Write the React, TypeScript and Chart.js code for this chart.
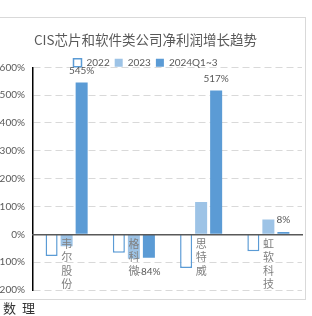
import React, { useEffect, useRef } from "react";
import { Chart, registerables } from "chart.js";

Chart.register(...registerables);

const TITLE = "CIS芯片和软件类公司净利润增长趋势";
const categories = ["韦尔股份", "格科微", "思特威", "虹软科技"];
const seriesNames = ["2022", "2023", "2024Q1~3"];
const values2022 = [-78, -66, -121, -61];
const values2023 = [-43, -88, 116, 53];
const values2024 = [545, -84, 517, 8];
const yMin = -200;
const yMax = 600;
const yStep = 100;
const footText = "数理";

const dataLabelPlugin = {
  id: "dataLabels",
  afterDatasetsDraw(chart: any) {
    const ctx = chart.ctx;
    const meta = chart.getDatasetMeta(2);
    const ds = chart.data.datasets[2];
    ctx.save();
    ctx.font = "10px Lato";
    ctx.fillStyle = "#595959";
    ctx.textAlign = "center";
    ctx.textBaseline = "middle";
    meta.data.forEach((bar: any, i: number) => {
      const v = ds.data[i] as number;
      const y = v >= 0 ? bar.y - 12 : bar.y + 14.5;
      ctx.fillText(v + "%", bar.x, y);
    });
    ctx.restore();
  },
};

const legendShiftPlugin = {
  id: "legendShift",
  afterLayout(chart: any) {
    const lg = chart.legend;
    if (lg) {
      lg.top += 10.5;
      lg.bottom += 10.5;
    }
  },
};

export default function App() {
  const ref = useRef<HTMLCanvasElement>(null);
  useEffect(() => {
    if (!ref.current) return;
    const chart = new Chart(ref.current, {
      type: "bar",
      data: {
        labels: categories.map((c) => c.split("")),
        datasets: [
          {
            label: seriesNames[0],
            data: values2022,
            backgroundColor: "#ffffff",
            borderColor: "#5b9bd5",
            borderWidth: 1.5,
          },
          {
            label: seriesNames[1],
            data: values2023,
            backgroundColor: "#9dc3e6",
            borderWidth: 0,
          },
          {
            label: seriesNames[2],
            data: values2024,
            backgroundColor: "#5b9bd5",
            borderWidth: 0,
          },
        ],
      },
      options: {
        animation: false,
        responsive: false,
        maintainAspectRatio: false,
        layout: { padding: { top: 0, left: 0, right: 2, bottom: 9 } },
        datasets: {
          bar: { categoryPercentage: 0.67, barPercentage: 0.8 },
        },
        plugins: {
          title: {
            display: true,
            text: TITLE,
            color: "#595959",
            font: { size: 13.5, family: "'Noto Sans CJK SC'", weight: "normal" },
            padding: { top: 14, bottom: -5.9 },
          },
          legend: {
            display: true,
            position: "top",
            labels: {
              boxWidth: 8,
              boxHeight: 8,
              padding: 5,
              color: "#595959",
              font: { size: 10, family: "Lato" },
            },
          },
          tooltip: { enabled: false },
        },
        scales: {
          x: {
            type: "category",
            position: { y: 0 } as any,
            afterFit(scale: any) {
              scale.paddingTop = 0;
              scale.paddingBottom = 0;
            },
            grid: { display: false, drawTicks: false },
            border: { display: true, color: "#595959", width: 1.5, z: 1 },
            ticks: {
              z: 1,
              color: "#808080",
              padding: 3,
              maxRotation: 0,
              autoSkip: false,
              font: { size: 11, family: "'Noto Sans CJK SC'", lineHeight: 1.2 },
            },
          },
          y: {
            min: yMin,
            max: yMax,
            afterFit(scale: any) {
              scale.width = 44;
              scale.paddingTop = 0;
              scale.paddingBottom = 0;
            },
            grid: { color: "#d9d9d9", lineWidth: 1, drawTicks: false },
            border: { display: true, color: "#000000", width: 1.5, dash: [7, 4] },
            ticks: {
              stepSize: yStep,
              padding: 8,
              color: "#595959",
              font: { size: 10, family: "Lato" },
              callback: (v: any) => v + "%",
            },
          },
        },
      },
      plugins: [dataLabelPlugin, legendShiftPlugin],
    });
    return () => chart.destroy();
  }, []);

  return (
    <div style={{ position: "fixed", left: 0, top: 0, width: 312, height: 316, overflow: "hidden", background: "#fff" }}>
      <div
        style={{
          position: "absolute",
          left: -12,
          top: 17,
          width: 318,
          height: 283,
          boxSizing: "border-box",
          border: "1px solid #d9d9d9",
          background: "#fff",
        }}
      >
        <canvas ref={ref} width={315} height={281} style={{ display: "block", width: 315, height: 281 }} />
      </div>
      <div
        style={{
          position: "absolute",
          left: 3,
          top: 300,
          fontSize: 13,
          letterSpacing: 6,
          color: "#333",
          fontFamily: "'Noto Sans CJK SC'",
          lineHeight: "16px",
        }}
      >
        {footText}
      </div>
    </div>
  );
}
